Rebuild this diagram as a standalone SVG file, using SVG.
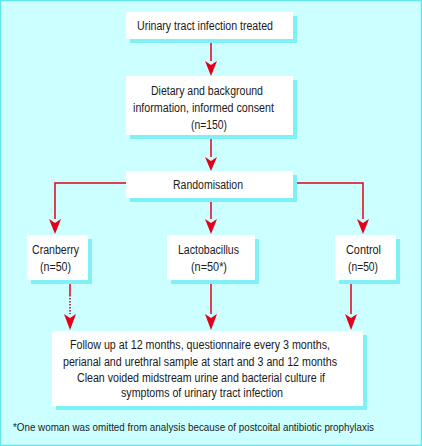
<svg xmlns="http://www.w3.org/2000/svg" width="422" height="446" viewBox="0 0 422 446">
<style>
.box{fill:#ffffff}
.sh{fill:#7ff0f4}
.t{font-family:"Liberation Sans",Arial,sans-serif;font-size:12.5px;fill:#1a1a1a;text-anchor:middle}
.f{font-family:"Liberation Sans",Arial,sans-serif;font-size:10.8px;fill:#1a1a1a}
.c{fill:none;stroke:#e3001b;stroke-width:1.5}
.ah{fill:#e3001b}
</style>
<rect x="0.5" y="0.5" width="421" height="445" fill="#ccffff" stroke="#66e4ea" stroke-width="1.5"/>
<g id="connectors">
<line class="c" x1="211" y1="39" x2="211" y2="61"/>
<path class="ah" d="M205,61 L211,65 L217,61 L211,76 Z"/>
<line class="c" x1="211" y1="135" x2="211" y2="157"/>
<path class="ah" d="M205,157 L211,161 L217,157 L211,171 Z"/>
<polyline class="c" points="126,183 55,183 55,219"/>
<path class="ah" d="M49,219 L55,223 L61,219 L55,234 Z"/>
<line class="c" x1="211" y1="198" x2="211" y2="219"/>
<path class="ah" d="M205,219 L211,223 L217,219 L211,234 Z"/>
<polyline class="c" points="293,183 363,183 363,219"/>
<path class="ah" d="M357,219 L363,223 L369,219 L363,234 Z"/>
<line class="c" x1="70" y1="280" x2="70" y2="295"/>
<line x1="70" y1="295" x2="70" y2="314" stroke="#b00014" stroke-width="1.5" stroke-dasharray="1.5,1.5"/>
<path class="ah" d="M64,314 L70,318 L76,314 L70,330 Z"/>
<line class="c" x1="211" y1="280" x2="211" y2="314"/>
<path class="ah" d="M205,314 L211,318 L217,314 L211,330 Z"/>
<line class="c" x1="351" y1="280" x2="351" y2="314"/>
<path class="ah" d="M345,314 L351,318 L357,314 L351,330 Z"/>
</g>
<g id="n1">
<rect class="sh" x="130" y="16" width="167" height="27"/>
<rect class="box" x="126" y="12" width="167" height="27"/>
<text class="t" x="205" y="30" textLength="136" lengthAdjust="spacingAndGlyphs">Urinary tract infection treated</text>
</g>
<g id="n2">
<rect class="sh" x="130" y="80" width="167" height="59"/>
<rect class="box" x="126" y="76" width="167" height="59"/>
<text class="t" x="207" y="95" textLength="112" lengthAdjust="spacingAndGlyphs">Dietary and background</text>
<text class="t" x="203.5" y="112" textLength="141" lengthAdjust="spacingAndGlyphs">information, informed consent</text>
<text class="t" x="209" y="129" textLength="36" lengthAdjust="spacingAndGlyphs">(n=150)</text>
</g>
<g id="n3">
<rect class="sh" x="130" y="175" width="167" height="27"/>
<rect class="box" x="126" y="171" width="167" height="27"/>
<text class="t" x="208" y="189" textLength="70" lengthAdjust="spacingAndGlyphs">Randomisation</text>
</g>
<g id="n4">
<rect class="sh" x="31" y="239" width="61" height="45"/>
<rect class="box" x="27" y="235" width="61" height="45"/>
<text class="t" x="55.5" y="254" textLength="47" lengthAdjust="spacingAndGlyphs">Cranberry</text>
<text class="t" x="55.5" y="271" textLength="31" lengthAdjust="spacingAndGlyphs">(n=50)</text>
</g>
<g id="n5">
<rect class="sh" x="171" y="239" width="88" height="45"/>
<rect class="box" x="167" y="235" width="88" height="45"/>
<text class="t" x="208.5" y="254" textLength="61" lengthAdjust="spacingAndGlyphs">Lactobacillus</text>
<text class="t" x="209" y="271" textLength="36" lengthAdjust="spacingAndGlyphs">(n=50*)</text>
</g>
<g id="n6">
<rect class="sh" x="339" y="239" width="61" height="45"/>
<rect class="box" x="335" y="235" width="61" height="45"/>
<text class="t" x="363.5" y="254" textLength="35" lengthAdjust="spacingAndGlyphs">Control</text>
<text class="t" x="363" y="271" textLength="30" lengthAdjust="spacingAndGlyphs">(n=50)</text>
</g>
<g id="n7">
<rect class="sh" x="56" y="335" width="311" height="75"/>
<rect class="box" x="52" y="331" width="311" height="75"/>
<text class="t" x="200" y="349" textLength="260" lengthAdjust="spacingAndGlyphs">Follow up at 12 months, questionnaire every 3 months,</text>
<text class="t" x="200" y="366" textLength="274" lengthAdjust="spacingAndGlyphs">perianal and urethral sample at start and 3 and 12 months</text>
<text class="t" x="201" y="382" textLength="248" lengthAdjust="spacingAndGlyphs">Clean voided midstream urine and bacterial culture if</text>
<text class="t" x="202" y="397" textLength="162" lengthAdjust="spacingAndGlyphs">symptoms of urinary tract infection</text>
</g>
<text class="f" x="13" y="431" textLength="361" lengthAdjust="spacingAndGlyphs">*One woman was omitted from analysis because of postcoital antibiotic prophylaxis</text>
</svg>
